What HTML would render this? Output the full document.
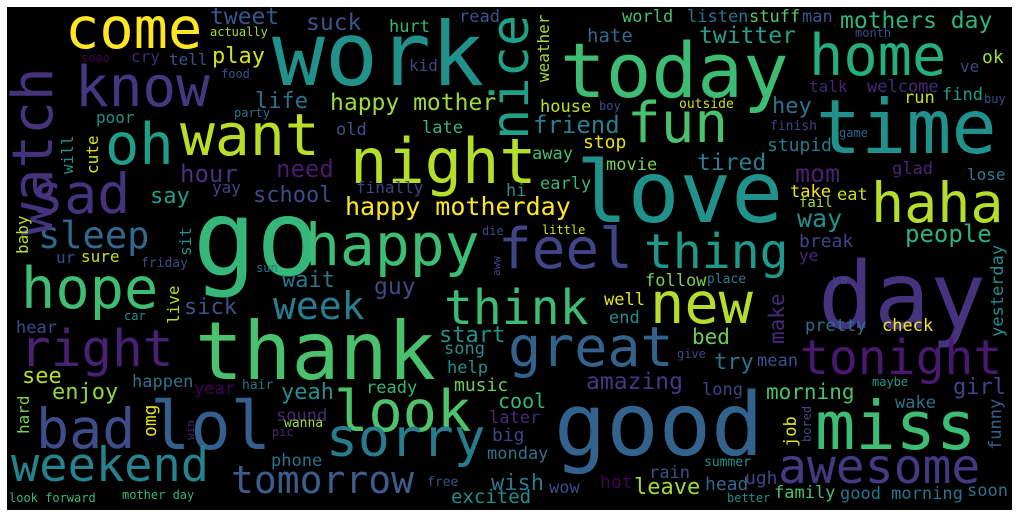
<!DOCTYPE html>
<html><head><meta charset="utf-8"><style>
html,body{margin:0;padding:0;background:#fff;width:1018px;height:516px;overflow:hidden}
svg text{font-family:"DejaVu Sans Mono","Liberation Mono",monospace}
</style></head><body>
<svg id="cloud" width="1018" height="516" xmlns="http://www.w3.org/2000/svg">
<rect x="7" y="7" width="1005" height="503" fill="#000"/>
<g id="words"></g>
</svg>
<script>
// [word, fontSize, x, baselineY, color, rotation]
const words = [
["work",88,272,85,"#21918c",0],["today",76,560,97,"#3dbc74",0],["love",86,576,222,"#21918c",0],
["day",93,818,328,"#46337e",0],["come",57,65,48,"#fde725",0],["know",56,75,106,"#453781",0],
["tweet",23,210,24,"#39568c",0],["actually",12,210,36,"#a0da39",0],["suck",23,306,30,"#3b528b",0],
["hurt",17,389,32,"#35b779",0],["read",17,459,22,"#3b528b",0],["kid",16,409,71,"#414487",0],
["world",17,622,22,"#4ac16d",0],["listen",17,687,22,"#2c728e",0],["stuff",17,749,22,"#5ec962",0],
["man",17,802,22,"#3b528b",0],["mothers day",23,840,28,"#2fb47c",0],["month",12,855,37,"#3e4989",0],
["hate",19,587,42,"#31688e",0],["twitter",23,699,43,"#2a9e8a",0],["home",57,809,75,"#26ad81",0],
["ok",18,982,63,"#a5db36",0],["ve",16,960,72,"#3e4989",0],["talk",16,809,92,"#482475",0],
["welcome",17,867,92,"#482878",0],["find",17,942,100,"#1f9e89",0],["buy",12,984,103,"#3e4989",0],
["run",17,904,103,"#c8e020",0],["hey",22,772,113,"#2c728e",0],["time",75,816,153,"#21918c",0],
["fun",56,627,142,"#4ac16d",0],["house",17,540,112,"#c2df23",0],["boy",12,599,110,"#3e4989",0],
["outside",13,679,108,"#d0e11c",0],["friend",24,533,133,"#287d8e",0],["stop",18,583,148,"#e5e419",0],
["finish",13,770,130,"#414487",0],["game",12,839,137,"#33638d",0],["stupid",18,767,151,"#2a788e",0],
["away",17,532,159,"#43bf71",0],["tired",23,697,170,"#287c8e",0],["movie",17,606,170,"#7ad151",0],
["mom",25,795,182,"#482173",0],["glad",17,892,174,"#482576",0],["lose",16,967,180,"#287d8e",0],
["early",17,540,189,"#35b779",0],["hi",17,506,196,"#2c8c8e",0],["haha",55,871,222,"#b5de2b",0],
["take",17,790,197,"#f1e51d",0],["eat",17,837,200,"#c8e020",0],["fail",14,799,207,"#a8db34",0],
["way",25,797,227,"#21908d",0],["little",12,542,234,"#d8e219",0],["people",24,905,242,"#2db27d",0],
["break",18,799,247,"#414487",0],["ye",16,799,261,"#482878",0],["thing",48,644,268,"#1f9a8a",0],
["feel",56,498,268,"#414487",0],["ya",13,832,284,"#3e4989",0],["girl",22,953,394,"#414487",0],
["oh",57,105,164,"#1f9e89",0],["want",58,180,155,"#bade28",0],["play",22,212,63,"#d5e21a",0],
["tell",16,169,65,"#3b528b",0],["cry",16,131,62,"#482475",0],["sooo",12,81,62,"#440154",0],
["food",12,221,78,"#3b528b",0],["life",22,255,108,"#2c728e",0],["happy mother",23,330,110,"#a0da39",0],
["poor",16,96,123,"#21908d",0],["party",12,234,117,"#2c728e",0],["old",17,336,135,"#3b528b",0],
["late",17,422,133,"#35b779",0],["night",62,350,183,"#b5de2b",0],["hour",24,180,182,"#46337e",0],
["need",24,276,177,"#4b1a6f",0],["say",22,150,203,"#1fa088",0],["yay",16,212,193,"#414487",0],
["school",22,253,202,"#3e4989",0],["finally",16,356,193,"#414487",0],["happy motherday",25,345,215,"#fde725",0],
["sad",55,31,213,"#46337e",0],["sleep",37,38,248,"#31688e",0],["die",12,482,235,"#3e4989",0],
["go",105,193,275,"#35b779",0],["happy",58,305,265,"#3dbc74",0],["hope",57,21,308,"#40bd72",0],
["ur",16,56,263,"#3e4989",0],["sure",16,81,262,"#c2df23",0],["friday",13,141,267,"#3e4989",0],
["sun",12,256,272,"#2c728e",0],["wait",22,282,287,"#2a788e",0],["guy",23,374,294,"#3e4989",0],
["sick",22,184,314,"#3b528b",0],["week",38,273,319,"#287d8e",0],["think",48,444,324,"#3dbc74",0],
["car",12,124,320,"#21908d",0],["hear",17,16,333,"#3e4989",0],["right",51,20,366,"#482173",0],
["thank",80,195,379,"#4ac16d",0],["start",22,439,342,"#21908d",0],["song",17,444,354,"#2c8c8e",0],
["help",17,447,373,"#21908d",0],["great",55,508,366,"#33638d",0],["new",57,650,323,"#b5de2b",0],
["follow",17,645,286,"#7ad151",0],["place",13,707,283,"#287c8e",0],["well",17,604,305,"#e5e419",0],
["end",17,609,323,"#21908d",0],["bed",21,692,344,"#6ece58",0],["pretty",17,805,331,"#2c728e",0],
["check",17,882,331,"#f1e51d",0],["tonight",48,800,374,"#4a186f",0],["give",12,677,358,"#3e4989",0],
["try",22,714,369,"#2c728e",0],["mean",17,757,366,"#3b528b",0],["amazing",23,586,389,"#443983",0],
["long",17,702,395,"#414487",0],["morning",21,766,399,"#4ac16d",0],["maybe",12,872,386,"#1f9a8a",0],
["wake",17,895,408,"#2c728e",0],["cool",20,498,408,"#35b779",0],["good",87,554,455,"#33638d",0],
["miss",67,815,449,"#3dbc74",0],["awesome",48,778,483,"#443983",0],["summer",13,704,466,"#21908d",0],
["rain",17,649,478,"#3b528b",0],["ugh",18,745,484,"#414487",0],["head",18,705,490,"#31688e",0],
["leave",22,634,494,"#a0da39",0],["hot",18,600,488,"#440154",0],["wow",17,549,493,"#3e4989",0],
["wish",22,491,490,"#2a788e",0],["family",17,774,498,"#4ac16d",0],["good morning",17,840,499,"#2c728e",0],
["soon",17,967,496,"#2c728e",0],["better",12,727,502,"#21908d",0],["excited",19,451,503,"#21908d",0],
["see",22,22,383,"#b5de2b",0],["happen",17,132,387,"#2c728e",0],["year",17,194,394,"#440154",0],
["hair",13,242,389,"#2c728e",0],["yeah",22,281,399,"#21908d",0],["ready",17,366,393,"#35b779",0],
["music",18,454,391,"#6ccd5a",0],["enjoy",22,52,399,"#90d743",0],["bad",55,36,448,"#3e4c8a",0],
["lol",67,150,449,"#355f8d",0],["sound",17,276,421,"#482878",0],["wanna",13,284,427,"#a0da39",0],
["pic",12,272,436,"#482475",0],["look",57,334,431,"#4ec36b",0],["sorry",53,326,456,"#287c8e",0],
["phone",17,271,466,"#2c728e",0],["weekend",47,11,481,"#26828e",0],["tomorrow",38,231,493,"#3e5c8b",0],
["free",13,427,486,"#3b528b",0],["look forward",12,9,502,"#35b779",0],["mother day",12,122,499,"#35b779",0],
["big",18,492,441,"#414487",0],["later",17,489,423,"#482878",0],["monday",17,487,459,"#2c728e",0],
["watch",56,52,236,"#46337e",-90],["nice",52,528,140,"#1fa187",-90],["weather",16,549,82,"#a2da37",-90],
["yesterday",17,1003,337,"#21908d",-90],["funny",17,1001,450,"#33638d",-90],["will",16,73,174,"#21908d",-90],
["cute",16,98,174,"#dce319",-90],["baby",16,28,254,"#bade28",-90],["sit",16,191,256,"#21908d",-90],
["live",16,179,324,"#b5de2b",-90],["make",21,784,344,"#482878",-90],["job",17,796,447,"#dce319",-90],
["bored",12,811,442,"#414487",-90],["hard",16,29,434,"#7ad151",-90],["omg",18,156,437,"#e5e419",-90],
["win",11,194,440,"#482475",-90],["aww",11,500,276,"#3e4989",-90]
];
const g = document.getElementById('words');
const NS = 'http://www.w3.org/2000/svg';
for (const w of words) {
  const t = document.createElementNS(NS, 'text');
  t.textContent = w[0];
  t.setAttribute('font-size', w[1]);
  t.setAttribute('fill', w[4]);
  t.setAttribute('transform', 'translate(' + w[2] + ',' + w[3] + ') rotate(' + w[5] + ')');
  
  
  g.appendChild(t);
}
</script>
</body></html>
